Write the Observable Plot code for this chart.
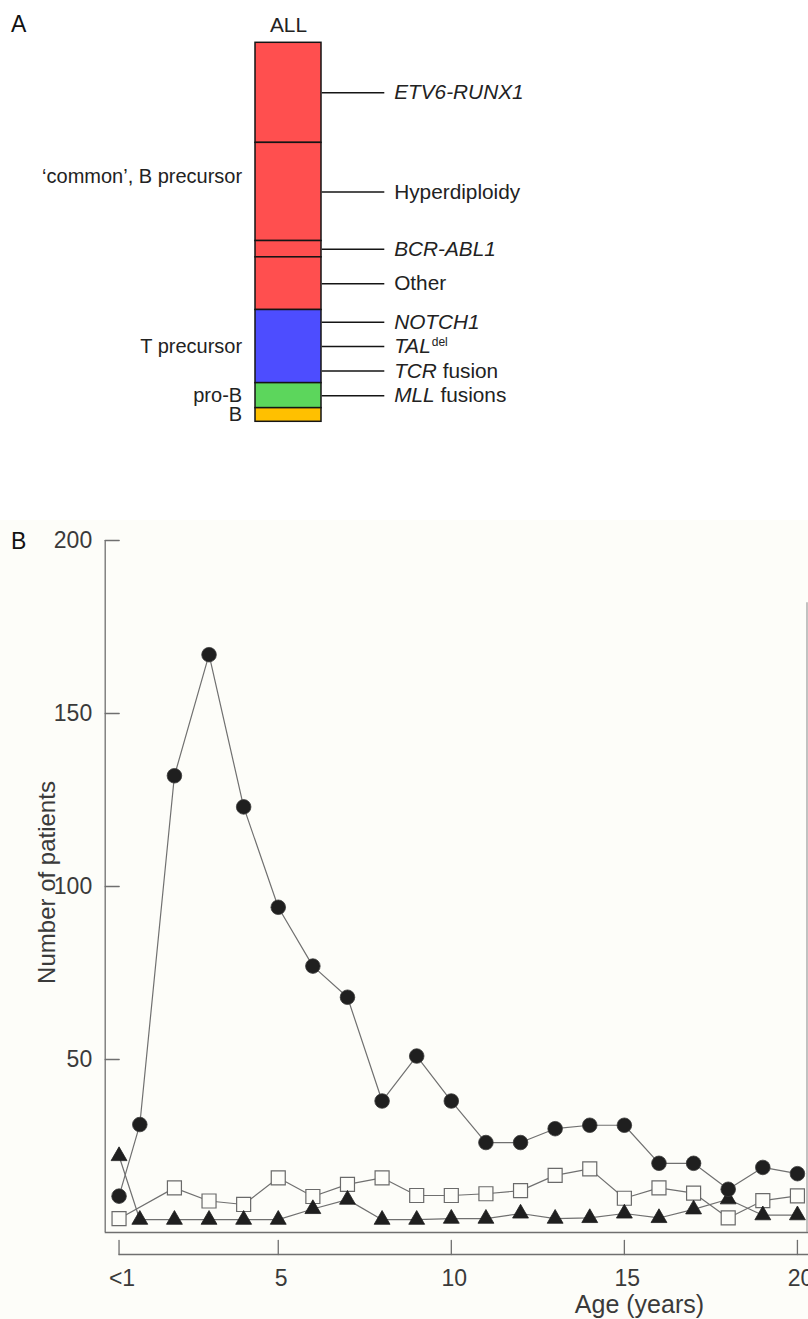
<!DOCTYPE html>
<html><head><meta charset="utf-8">
<script src="https://cdn.jsdelivr.net/npm/d3@7"></script>
<script src="https://cdn.jsdelivr.net/npm/@observablehq/plot@0.6"></script>
<style>
html,body{margin:0;padding:0;background:#fff;}
body{width:808px;height:1319px;position:relative;overflow:hidden;font-family:"Liberation Sans",Arial,sans-serif;}
#panelA{position:absolute;left:0;top:0;}
#panelB{position:absolute;left:0;top:520px;}
div.plabel{position:absolute;font-size:23px;line-height:23px;color:#111;font-family:"Liberation Sans",Arial,sans-serif;}
</style></head><body>
<div id="panelA"></div>
<div id="panelB"></div>
<div class="plabel" style="left:11px;top:13px;font-size:23px">A</div>
<div class="plabel" style="left:11px;top:530px;font-size:23px">B</div>
<script>
// ---------- Panel A data ----------
const segmentNames = ["ETV6-RUNX1", "Hyperdiploidy", "BCR-ABL1", "Other", "T precursor", "pro-B", "B"];
const segmentLineage = ["‘common’, B precursor", "‘common’, B precursor", "‘common’, B precursor", "‘common’, B precursor", "T precursor", "pro-B", "B"];
const segmentShare = [26.4, 25.9, 4.3, 13.9, 19.3, 6.6, 3.6];
const lineages = ["‘common’, B precursor", "T precursor", "pro-B", "B"];
const annotationLabels = ["ETV6-RUNX1", "Hyperdiploidy", "BCR-ABL1", "Other", "NOTCH1", "TALdel", "TCR fusion", "MLL fusions"];
const annotationSegment = ["ETV6-RUNX1", "Hyperdiploidy", "BCR-ABL1", "Other", "T precursor", "T precursor", "T precursor", "pro-B"];
const annotationItalic = ["ETV6-RUNX1", "", "BCR-ABL1", "", "NOTCH1", "TAL", "TCR", "MLL"];
const annotationSuperscript = ["", "", "", "", "", "del", "", ""];

// ---------- Panel B data ----------
const ageLabels = ["<1","1","2","3","4","5","6","7","8","9","10","11","12","13","14","15","16","17","18","19","20"];
const agePosition = [0.4,1,2,3,4,5,6,7,8,9,10,11,12,13,14,15,16,17,18,19,20];
const commonALL = [10.5,31.2,132,167,123,94,77,68,38,51,38,26,26,30,31,31,20,20,12.5,18.8,17];
const tALL      = [4.0,null,12.9,9.1,8.1,15.8,10.4,13.9,15.8,10.7,10.7,11.2,12.1,16.5,18.4,9.9,12.9,11.4,4.2,9.2,10.6];
const proBALL   = [22.1,3.7,3.7,3.7,3.7,3.7,6.8,9.5,3.7,3.7,4.0,4.0,5.5,4.0,4.2,5.5,4.2,6.7,9.6,5.0,5.0];
const yTicks = [50, 100, 150, 200];
const xTickValues = [0.4, 5, 10, 15, 20];
const xTickLabels = ["<1", "5", "10", "15", "20"];

const FONT = '"Liberation Sans", Arial, Helvetica, sans-serif';

// ---------- Panel A ----------
const segments = segmentNames.map((name, i) => ({name, lineage: segmentLineage[i], share: segmentShare[i]}));
let acc = 0;
const segStart = new Map(), segEnd = new Map();
segments.forEach(s => { segStart.set(s.name, acc); acc += s.share; segEnd.set(s.name, acc); });
const total = acc;
const annotCount = d3.rollup(annotationSegment, v => v.length, d => d);
const seen = new Map();
const annotations = annotationLabels.map((label, i) => {
  const seg = annotationSegment[i];
  const k = seen.get(seg) || 0; seen.set(seg, k + 1);
  const n = annotCount.get(seg);
  const y = segStart.get(seg) + (segEnd.get(seg) - segStart.get(seg)) * (k + 0.5) / n;
  return {label, y, italic: annotationItalic[i], sup: annotationSuperscript[i]};
});
const groups = lineages.map(l => {
  const segs = segments.filter(s => s.lineage === l);
  return {lineage: l, y: (segStart.get(segs[0].name) + segEnd.get(segs[segs.length - 1].name)) / 2};
});

const barLeft = 255, barRight = 321.7;
const bandW = barRight - barLeft;
const plotA = Plot.plot({
  width: 808, height: 470,
  marginLeft: barLeft, marginRight: 808 - barRight, marginTop: 42.3, marginBottom: 48.7,
  style: {fontFamily: FONT, fontSize: "20.8px", color: "#222", background: "#fff", overflow: "visible"},
  x: {type: "band", domain: ["ALL"], padding: 0, axis: null},
  y: {domain: [0, total], reverse: true, axis: null},
  color: {domain: lineages, range: ["#ff4f4f", "#4d4dff", "#5cd65c", "#ffc000"]},
  marks: [
    Plot.barY(segments, {x: () => "ALL", y: "share", fill: "lineage", stroke: "#151515", strokeWidth: 1.5}),
    Plot.text(["ALL"], {x: d => d, frameAnchor: "top", dy: -10.6, lineAnchor: "bottom", fill: "#222"}),
    Plot.tickY(annotations, {x: () => "ALL", y: "y", dx: bandW, insetRight: 3.4, stroke: "#151515", strokeWidth: 1.5}),
    Plot.text(annotations, {x: () => "ALL", y: "y", text: "label", textAnchor: "start", dx: 394 - (barLeft + bandW / 2), fill: "#222"}),
    Plot.text(groups, {x: () => "ALL", y: "y", text: "lineage", textAnchor: "end", fontSize: 20, dx: -(barLeft + bandW / 2 - 242), fill: "#222"})
  ]
});
// rich text (italic gene names, superscript)
const annByLabel = new Map(annotations.map(a => [a.label, a]));
const NS = "http://www.w3.org/2000/svg";
plotA.querySelectorAll("text").forEach(t => {
  const a = annByLabel.get(t.textContent);
  if (!a) return;
  const rest = a.label.slice(a.italic.length, a.label.length - a.sup.length);
  while (t.firstChild) t.removeChild(t.firstChild);
  if (a.italic) { const s = document.createElementNS(NS, "tspan"); s.setAttribute("font-style", "italic"); s.textContent = a.italic; t.appendChild(s); }
  if (rest) { const s = document.createElementNS(NS, "tspan"); s.textContent = rest; t.appendChild(s); }
  if (a.sup) { const s = document.createElementNS(NS, "tspan"); s.setAttribute("font-size", "12"); s.setAttribute("dy", "-7"); s.setAttribute("dx", "1"); s.textContent = a.sup; t.appendChild(s); }
});
document.getElementById("panelA").appendChild(plotA);

// ---------- Panel B ----------
const rows = values => agePosition.map((x, i) => ({age: ageLabels[i], x, y: values[i]})).filter(d => d.y != null);
const circles = rows(commonALL), squares = rows(tALL), triangles = rows(proBALL);
const xMax = 20.32;
const tickShape = {draw(context, l) { context.moveTo(0, 0); context.lineTo(0, -l); }};
const axisColor = "#6f6f6f", lineColor = "#707070", inkColor = "#1f1f1f", textColor = "#3a3a3a", bg = "#fdfdf9";

const plotB = Plot.plot({
  width: 808, height: 799,
  marginLeft: 104.7, marginRight: 0, marginTop: 20, marginBottom: 87,
  style: {fontFamily: FONT, fontSize: "23px", color: textColor, background: bg, overflow: "visible"},
  x: {domain: [0, xMax], axis: null},
  y: {domain: [0, 200], axis: null},
  marks: [
    // frame lines
    Plot.ruleX([0], {y1: 0, y2: 200, stroke: axisColor, strokeWidth: 1.3}),
    Plot.ruleY([0], {x1: 0, x2: xMax, stroke: axisColor, strokeWidth: 1.3}),
    Plot.ruleX([xMax], {y1: 0, y2: 182, dx: -1.5, stroke: "#9a9a9a", strokeWidth: 1.2}),
    // y axis ticks + labels
    Plot.vector(yTicks, {x: 0, y: d => d, length: 14, rotate: 90, anchor: "start", shape: tickShape, stroke: axisColor, strokeWidth: 1.3}),
    Plot.text(yTicks, {x: 0, y: d => d, text: d => String(d), textAnchor: "end", lineAnchor: "middle", dx: -13, fill: textColor}),
    Plot.text(["Number of patients"], {frameAnchor: "left", textAnchor: "middle", lineAnchor: "middle", rotate: -90, dx: -58, dy: -4, fontSize: 24, fill: textColor}),
    // x axis (offset below the frame)
    Plot.ruleY([0], {x1: xTickValues[0], x2: xMax, dy: 22, stroke: axisColor, strokeWidth: 1.3}),
    Plot.vector(xTickValues, {x: d => d, y: 0, dy: 22, length: 14, rotate: 0, anchor: "start", shape: tickShape, stroke: axisColor, strokeWidth: 1.3}),
    Plot.text(xTickValues, {x: d => d, y: 0, dy: 46, dx: 3, lineAnchor: "middle", text: (d, i) => xTickLabels[i], fill: textColor}),
    Plot.text(["Age (years)"], {frameAnchor: "bottom", textAnchor: "middle", lineAnchor: "middle", dx: 182.6, dy: 72.3, fontSize: 25, fill: textColor}),
    // series lines
    Plot.line(squares, {x: "x", y: "y", stroke: lineColor, strokeWidth: 1.2}),
    Plot.line(triangles, {x: "x", y: "y", stroke: lineColor, strokeWidth: 1.2}),
    Plot.line(circles, {x: "x", y: "y", stroke: lineColor, strokeWidth: 1.2}),
    // markers
    Plot.dot(squares, {x: "x", y: "y", symbol: "square", r: 7.9, fill: bg, stroke: "#6a6a6a", strokeWidth: 1.2}),
    Plot.dot(triangles, {x: "x", y: "y", symbol: "triangle", r: 5.9, fill: inkColor, stroke: inkColor, strokeWidth: 0.8}),
    Plot.dot(circles, {x: "x", y: "y", r: 7.3, fill: inkColor, stroke: "#3a3a3a", strokeWidth: 0.8})
  ]
});
document.getElementById("panelB").appendChild(plotB);
</script>
</body></html>
